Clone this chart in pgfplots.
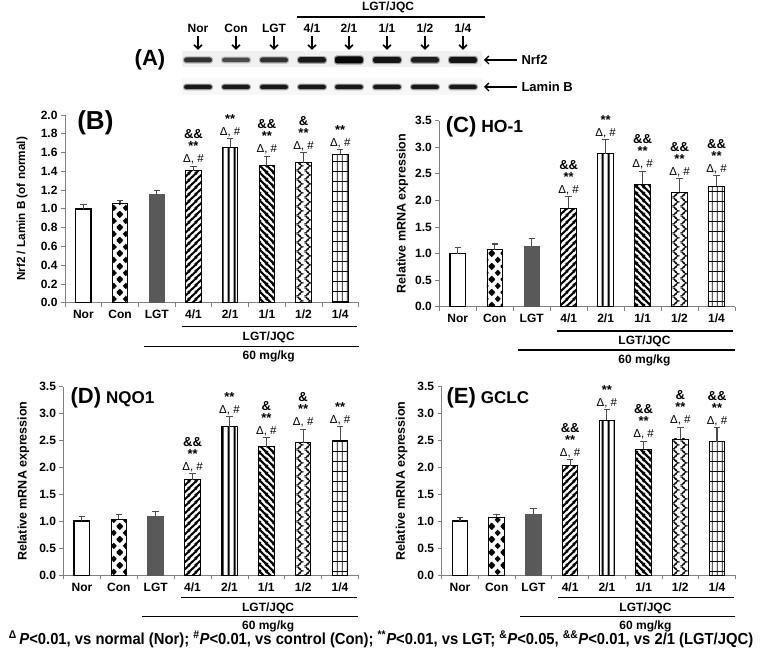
\documentclass[border=0pt]{standalone}
\usepackage{fontspec}
\setmainfont{Liberation Sans}
\newfontfamily\narrowf[FakeStretch=0.925]{Liberation Sans}
\usepackage{pgfplots}
\pgfplotsset{compat=1.18}
\usetikzlibrary{patterns,arrows.meta}
\definecolor{lgtgray}{HTML}{595959}
\definecolor{axgray}{HTML}{808080}

\newcommand\dia[2]{\pgfpathmoveto{\pgfpoint{#1pt-3.2pt}{#2pt}}\pgfpathlineto{\pgfpoint{#1pt}{#2pt+3.4pt}}\pgfpathlineto{\pgfpoint{#1pt+3.2pt}{#2pt}}\pgfpathlineto{\pgfpoint{#1pt}{#2pt-3.4pt}}\pgfpathclose}
\pgfdeclarepatternformonly{diamondsP}{\pgfqpoint{0pt}{0pt}}{\pgfqpoint{12pt}{13pt}}{\pgfqpoint{12pt}{13pt}}{%
  \dia{0}{0}\dia{12}{0}\dia{0}{13}\dia{12}{13}\dia{6}{6.5}\pgfusepath{fill}}
\pgfdeclarepatternformonly{neP}{\pgfqpoint{0pt}{0pt}}{\pgfqpoint{7pt}{7pt}}{\pgfqpoint{7pt}{7pt}}{%
  \pgfsetlinewidth{2.2pt}%
  \pgfpathmoveto{\pgfqpoint{-1pt}{-1pt}}\pgfpathlineto{\pgfqpoint{8pt}{8pt}}%
  \pgfpathmoveto{\pgfqpoint{6pt}{-1pt}}\pgfpathlineto{\pgfqpoint{8pt}{1pt}}%
  \pgfpathmoveto{\pgfqpoint{-1pt}{6pt}}\pgfpathlineto{\pgfqpoint{1pt}{8pt}}%
  \pgfusepath{stroke}}
\pgfdeclarepatternformonly{nwP}{\pgfqpoint{0pt}{0pt}}{\pgfqpoint{6.5pt}{6.5pt}}{\pgfqpoint{6.5pt}{6.5pt}}{%
  \pgfsetlinewidth{2.3pt}%
  \pgfpathmoveto{\pgfqpoint{-1pt}{1pt}}\pgfpathlineto{\pgfqpoint{1pt}{-1pt}}%
  \pgfpathmoveto{\pgfqpoint{-1pt}{7.5pt}}\pgfpathlineto{\pgfqpoint{7.5pt}{-1pt}}%
  \pgfpathmoveto{\pgfqpoint{5.5pt}{7.5pt}}\pgfpathlineto{\pgfqpoint{7.5pt}{5.5pt}}%
  \pgfusepath{stroke}}
\pgfdeclarepatternformonly{vP}{\pgfqpoint{0pt}{0pt}}{\pgfqpoint{5.5pt}{2pt}}{\pgfqpoint{5.5pt}{2pt}}{%
  \pgfsetlinewidth{2.2pt}%
  \pgfpathmoveto{\pgfqpoint{2.75pt}{-1pt}}\pgfpathlineto{\pgfqpoint{2.75pt}{3pt}}\pgfusepath{stroke}}
\pgfdeclarepatternformonly{gridP}{\pgfqpoint{0pt}{0pt}}{\pgfqpoint{5pt}{10pt}}{\pgfqpoint{5pt}{10pt}}{%
  \pgfsetlinewidth{0.9pt}%
  \pgfpathmoveto{\pgfqpoint{2.5pt}{-1pt}}\pgfpathlineto{\pgfqpoint{2.5pt}{11pt}}%
  \pgfpathmoveto{\pgfqpoint{-1pt}{5pt}}\pgfpathlineto{\pgfqpoint{6pt}{5pt}}\pgfusepath{stroke}}
\pgfdeclarepatternformonly{zzP}{\pgfqpoint{0pt}{0pt}}{\pgfqpoint{8pt}{9pt}}{\pgfqpoint{8pt}{9pt}}{%
  \pgfsetlinewidth{0.75pt}%
  \pgfpathmoveto{\pgfqpoint{0pt}{0pt}}\pgfpathcurveto{\pgfqpoint{4pt}{0.5pt}}{\pgfqpoint{6pt}{2.5pt}}{\pgfqpoint{6pt}{4.5pt}}%
  \pgfpathcurveto{\pgfqpoint{6pt}{6.5pt}}{\pgfqpoint{4pt}{8.5pt}}{\pgfqpoint{0pt}{9pt}}%
  \pgfpathmoveto{\pgfqpoint{8pt}{-4.5pt}}\pgfpathcurveto{\pgfqpoint{4pt}{-4pt}}{\pgfqpoint{2pt}{-2pt}}{\pgfqpoint{2pt}{0pt}}%
  \pgfpathcurveto{\pgfqpoint{2pt}{2pt}}{\pgfqpoint{4pt}{4pt}}{\pgfqpoint{8pt}{4.5pt}}%
  \pgfpathcurveto{\pgfqpoint{4pt}{5pt}}{\pgfqpoint{2pt}{7pt}}{\pgfqpoint{2pt}{9pt}}%
  \pgfpathcurveto{\pgfqpoint{2pt}{11pt}}{\pgfqpoint{4pt}{13pt}}{\pgfqpoint{8pt}{13.5pt}}%
  \pgfusepath{stroke}}

\pgfplotsset{
  panel/.style={
    scale only axis, anchor=south west,
    xmin=-0.5, xmax=7.5, ymin=0,
    axis lines*=left,
    axis line style={draw=axgray, line width=0.8pt, -},
    xtick={-0.5,0.5,...,7.5},
    x tick label as interval,
    xticklabels={Nor,Con,LGT,4/1,2/1,1/1,1/2,1/4},
    tick align=outside,
    major tick length=4pt,
    tick style={draw=axgray, line width=0.7pt},
    ticklabel style={font=\bfseries\fontsize{12}{12}\selectfont},
    /pgf/number format/assume math mode=true,
    y tick label style={/pgf/number format/fixed, /pgf/number format/fixed zerofill, /pgf/number format/precision=1},
    ylabel style={font=\bfseries\fontsize{12.5}{13}\selectfont, anchor=center},
    clip=false,
  },
  bb/.style={ybar, bar width=15.5pt, draw=black, line width=0.9pt,
    error bars/y dir=plus, error bars/y explicit,
    error bars/error bar style={draw=gray!60!black, line width=1.1pt, solid},
    error bars/error mark options={rotate=90, mark size=3.2pt, draw=gray!60!black, line width=1.1pt}},
  nor/.style={fill=white, line width=1.4pt},
  con/.style={pattern=diamondsP},
  lgt/.style={fill=lgtgray, draw=lgtgray},
  c41/.style={pattern=neP},
  c21/.style={pattern=vP},
  c11/.style={pattern=nwP},
  c12/.style={pattern=zzP},
  c14/.style={pattern=gridP},
}
\tikzset{annot/.style={anchor=south, align=center, inner sep=0.5pt, yshift=1.2pt, font=\fontsize{11.5}{12}\selectfont},
  lab/.style={font=\bfseries\fontsize{12}{12}\selectfont}}

\newcommand\annAA{{\bfseries\fontsize{13}{12}\selectfont\&\&}}
\newcommand\annA{{\bfseries\fontsize{13}{12}\selectfont\&}}
\newcommand\annS{{\bfseries\fontsize{13}{12}\selectfont **}}
\newcommand\annD{Δ, \#}
\newcommand\ann[3]{\node[annot] at (axis cs:#1,#2) {#3};}
\newcommand\under[4]{%
  \draw[line width=1.3pt] ([yshift=-#1pt]axis cs:2.68,0) -- ([yshift=-#1pt]axis cs:7.45,0);
  \node[lab] at ([yshift=-#2pt]axis cs:5.05,0) {LGT/JQC};
  \draw[line width=1.3pt] ([yshift=-#3pt]axis cs:1.64,0) -- ([yshift=-#3pt]axis cs:7.5,0);
  \node[lab] at ([yshift=-#4pt]axis cs:5.05,0) {60 mg/kg};}
\newcommand\band[4]{%
  \fill[black, opacity=#3*0.35, rounded corners=3pt] (#1-15,#2-#4/2-1.2) rectangle (#1+15,#2+#4/2+1.2);
  \fill[black, opacity=#3, rounded corners=2.5pt] (#1-14,#2-#4/2) rectangle (#1+14,#2+#4/2);}

\begin{document}
\begin{tikzpicture}[x=1pt,y=1pt]
\path[use as bounding box] (0,0) rectangle (761,656);

% ---------- panel A (blot) ----------
\node[font=\bfseries\fontsize{22}{22}\selectfont] at (150,596) {(A)};
\fill[gray!12] (182,589) rectangle (482,605);
\fill[gray!6] (182,561) rectangle (482,578);
\foreach \x/\d/\h in {198/0.72/5, 236/0.6/4.5, 274/0.72/5, 312/0.85/5.5, 349/0.95/7, 387/0.88/6, 425/0.82/5.5, 463/0.88/6}{
  \band{\x}{596}{\d}{\h}
}
\foreach \x in {198,236,274,312,349,387,425,463}{
  \band{\x}{569}{0.85}{4.5}
  \draw[line width=1.6pt, -{Straight Barb[length=4pt,width=8pt]}] (\x,620) -- (\x,606);
}
\foreach \x/\t in {198/Nor,236/Con,274/LGT,312/4\slash 1,349/2\slash 1,387/1\slash 1,425/1\slash 2,463/1\slash 4}{
  \node[lab] at (\x,628) {\t};
}
\draw[line width=1.3pt] (297,639) -- (485,639);
\node[lab] at (388,649) {LGT/JQC};
\draw[line width=1.3pt, {Straight Barb[length=4pt,width=8pt]}-] (484,596) -- (517,596);
\node[anchor=west, font=\bfseries\fontsize{13}{13}\selectfont] at (518,596) {Nrf2};
\draw[line width=1.3pt, {Straight Barb[length=4pt,width=8pt]}-] (484,569) -- (517,569);
\node[anchor=west, font=\bfseries\fontsize{13}{13}\selectfont] at (518,569) {Lamin B};

% ---------- panel B ----------
\begin{axis}[panel, at={(65pt,353.3pt)}, width=293.6pt, height=187.7pt,
  ymax=2, ytick={0,0.2,...,2.01},
  ylabel={Nrf2 / Lamin B (of normal)},
  ylabel style={font=\bfseries\fontsize{11.7}{12}\selectfont, at={([xshift=-43pt]axis description cs:0,0.5)}}]
\addplot[bb,nor] coordinates {(0,1.00) +- (0,0.05)};
\addplot[bb,con] coordinates {(1,1.06) +- (0,0.03)};
\addplot[bb,lgt] coordinates {(2,1.15) +- (0,0.05)};
\addplot[bb,c41] coordinates {(3,1.405) +- (0,0.05)};
\addplot[bb,c21] coordinates {(4,1.655) +- (0,0.095)};
\addplot[bb,c11] coordinates {(5,1.46) +- (0,0.10)};
\addplot[bb,c12] coordinates {(6,1.49) +- (0,0.11)};
\addplot[bb,c14] coordinates {(7,1.58) +- (0,0.05)};
\ann{3}{1.455}{\annAA\\\annS\\\annD}
\ann{4}{1.75}{\annS\\\annD}
\ann{5}{1.56}{\annAA\\\annS\\\annD}
\ann{6}{1.60}{\annA\\\annS\\\annD}
\ann{7}{1.63}{\annS\\\annD}
\node[anchor=west, font=\bfseries\fontsize{26}{26}\selectfont] at (rel axis cs:0.03,0.96) {(B)};
\under{24}{34.5}{43.5}{54}
\end{axis}

% ---------- panel C ----------
\begin{axis}[panel, at={(439.3pt,349.3pt)}, width=295.7pt, height=186pt,
  ymax=3.5, ytick={0,0.5,...,3.51},
  ylabel={Relative mRNA expression},
  ylabel style={at={([xshift=-37pt]axis description cs:0,0.5)}}]
\addplot[bb,nor] coordinates {(0,1.00) +- (0,0.12)};
\addplot[bb,con] coordinates {(1,1.07) +- (0,0.11)};
\addplot[bb,lgt] coordinates {(2,1.14) +- (0,0.14)};
\addplot[bb,c41] coordinates {(3,1.855) +- (0,0.215)};
\addplot[bb,c21] coordinates {(4,2.875) +- (0,0.265)};
\addplot[bb,c11] coordinates {(5,2.30) +- (0,0.25)};
\addplot[bb,c12] coordinates {(6,2.15) +- (0,0.26)};
\addplot[bb,c14] coordinates {(7,2.27) +- (0,0.20)};
\ann{3}{2.07}{\annAA\\\annS\\\annD}
\ann{4}{3.14}{\annS\\\annD}
\ann{5}{2.55}{\annAA\\\annS\\\annD}
\ann{6}{2.41}{\annAA\\\annS\\\annD}
\ann{7}{2.47}{\annAA\\\annS\\\annD}
\node[anchor=west, font=\bfseries\fontsize{22}{22}\selectfont] at (rel axis cs:0.01,0.965) {(C)\hspace{5pt}{\fontsize{17.5}{17.5}\selectfont HO-1}};
\under{24.3}{35}{43.3}{54}
\end{axis}

% ---------- panel D ----------
\begin{axis}[panel, at={(63.5pt,80.7pt)}, width=295pt, height=188.6pt,
  ymax=3.5, ytick={0,0.5,...,3.51},
  ylabel={Relative mRNA expression},
  ylabel style={at={([xshift=-40pt]axis description cs:0,0.5)}}]
\addplot[bb,nor] coordinates {(0,1.01) +- (0,0.08)};
\addplot[bb,con] coordinates {(1,1.04) +- (0,0.085)};
\addplot[bb,lgt] coordinates {(2,1.10) +- (0,0.09)};
\addplot[bb,c41] coordinates {(3,1.77) +- (0,0.12)};
\addplot[bb,c21] coordinates {(4,2.76) +- (0,0.18)};
\addplot[bb,c11] coordinates {(5,2.39) +- (0,0.16)};
\addplot[bb,c12] coordinates {(6,2.46) +- (0,0.25)};
\addplot[bb,c14] coordinates {(7,2.51) +- (0,0.25)};
\ann{3}{1.89}{\annAA\\\annS\\\annD}
\ann{4}{2.94}{\annS\\\annD}
\ann{5}{2.55}{\annA\\\annS\\\annD}
\ann{6}{2.71}{\annA\\\annS\\\annD}
\ann{7}{2.76}{\annS\\\annD}
\node[anchor=west, font=\bfseries\fontsize{22}{22}\selectfont] at (rel axis cs:0.012,0.94) {(D)\hspace{5pt}{\fontsize{17}{17}\selectfont NQO1}};
\under{22}{33}{41}{51.5}
\end{axis}

% ---------- panel E ----------
\begin{axis}[panel, at={(441.6pt,80.7pt)}, width=293.8pt, height=188.6pt,
  ymax=3.5, ytick={0,0.5,...,3.51},
  ylabel={Relative mRNA expression},
  ylabel style={at={([xshift=-40pt]axis description cs:0,0.5)}}]
\addplot[bb,nor] coordinates {(0,1.01) +- (0,0.07)};
\addplot[bb,con] coordinates {(1,1.08) +- (0,0.05)};
\addplot[bb,lgt] coordinates {(2,1.13) +- (0,0.11)};
\addplot[bb,c41] coordinates {(3,2.03) +- (0,0.12)};
\addplot[bb,c21] coordinates {(4,2.88) +- (0,0.19)};
\addplot[bb,c11] coordinates {(5,2.34) +- (0,0.15)};
\addplot[bb,c12] coordinates {(6,2.53) +- (0,0.22)};
\addplot[bb,c14] coordinates {(7,2.48) +- (0,0.26)};
\ann{3}{2.15}{\annAA\\\annS\\\annD}
\ann{4}{3.07}{\annS\\\annD}
\ann{5}{2.49}{\annAA\\\annS\\\annD}
\ann{6}{2.75}{\annA\\\annS\\\annD}
\ann{7}{2.74}{\annAA\\\annS\\\annD}
\node[anchor=west, font=\bfseries\fontsize{22}{22}\selectfont] at (rel axis cs:0.005,0.94) {(E)\hspace{5pt}{\fontsize{17}{17}\selectfont GCLC}};
\under{22}{33}{41}{51.5}
\end{axis}

% ---------- footnote ----------
\node[font=\narrowf\bfseries\fontsize{16}{17}\selectfont] at (381,17) {\textsuperscript{Δ}\,\textit{P}<0.01, vs normal (Nor); \textsuperscript{\#}\textit{P}<0.01, vs control (Con); \textsuperscript{**}\textit{P}<0.01, vs LGT; \textsuperscript{\&}\textit{P}<0.05, \textsuperscript{\&\&}\textit{P}<0.01, vs 2/1 (LGT/JQC)};
\end{tikzpicture}
\end{document}
